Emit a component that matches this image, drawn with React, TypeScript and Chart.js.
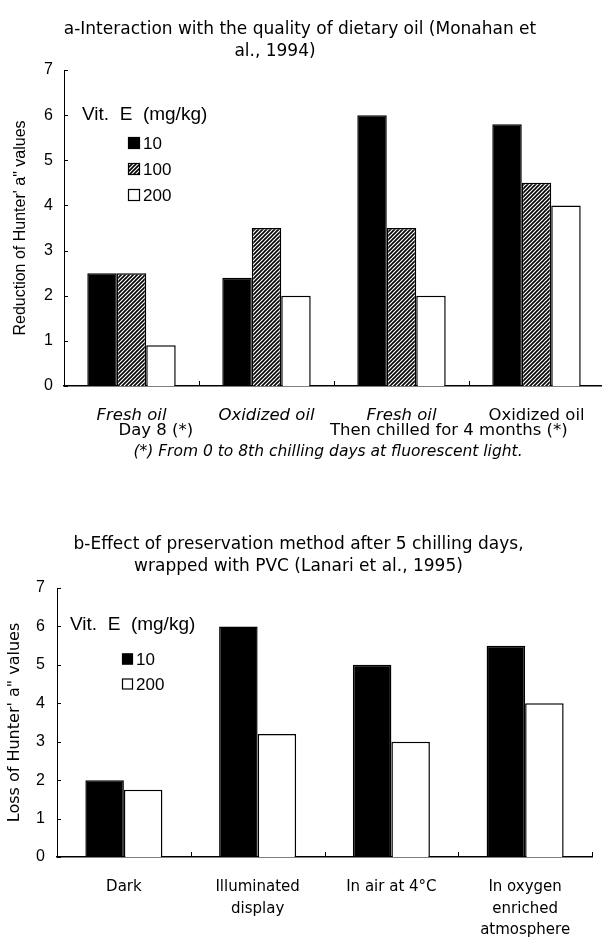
import React, { useEffect, useRef } from "react";
import { Chart, registerables } from "chart.js";

Chart.register(...registerables);

const FONT = "'Liberation Sans', Arial, Helvetica, sans-serif";
const WIDE = "'DejaVu Sans', Verdana, sans-serif";

// ---------- Chart a data ----------
const titleA = ["a-Interaction with the quality of dietary oil (Monahan et", "al., 1994)"];
const categoriesA = ["Fresh oil", "Oxidized oil", "Fresh oil", "Oxidized oil"];
const italicA = [true, true, true, false];
const day8Label = "Day 8 (*)";
const chilledLabel = "Then chilled for 4 months (*)";
const footnoteA = "(*) From 0 to 8th chilling days at fluorescent light.";
const seriesA = ["10", "100", "200"];
const vitE10A = [2.5, 2.4, 6.0, 5.8];
const vitE100A = [2.5, 3.5, 3.5, 4.5];
const vitE200A = [0.9, 2.0, 2.0, 4.0];
const yTitleA = "Reduction of Hunter' a\" values";

// ---------- Chart b data ----------
const titleB = ["b-Effect of preservation method after 5 chilling days,", "wrapped with PVC (Lanari et al., 1995)"];
const categoriesB = [["Dark"], ["Illuminated", "display"], ["In air at 4\u00b0C"], ["In oxygen", "enriched", "atmosphere"]];
const seriesB = ["10", "200"];
const vitE10B = [2.0, 6.0, 5.0, 5.5];
const vitE200B = [1.75, 3.2, 3.0, 4.0];
const yTitleB = "Loss of Hunter' a\" values";

const legendTitle = "Vit.  E  (mg/kg)";
const yMin = 0;
const yMax = 7;

function hatchPattern(): CanvasPattern | string {
  const c = document.createElement("canvas");
  c.width = 4;
  c.height = 4;
  const g = c.getContext("2d");
  if (!g) return "#777";
  g.fillStyle = "#fff";
  g.fillRect(0, 0, 4, 4);
  g.strokeStyle = "#000";
  g.lineWidth = 1.6;
  g.beginPath();
  g.moveTo(-1, 5);
  g.lineTo(5, -1);
  g.moveTo(-1, 1);
  g.lineTo(1, -1);
  g.moveTo(3, 5);
  g.lineTo(5, 3);
  g.stroke();
  const p = g.createPattern(c, "repeat");
  return p || "#777";
}

const decorPlugin = {
  id: "decor",
  afterDraw(chart: any, _args: any, opts: any) {
    const ctx: CanvasRenderingContext2D = chart.ctx;
    const area = chart.chartArea;
    const xs = chart.scales.x;
    const ys = chart.scales.y;
    const midX = (area.left + area.right) / 2;
    ctx.save();
    // inward tick marks
    ctx.strokeStyle = "#000";
    ctx.lineWidth = 1;
    const n = chart.data.labels.length;
    for (let i = 1; i <= n; i++) {
      const px = Math.round(xs.getPixelForValue(i - 0.5)) + 0.5;
      ctx.beginPath();
      ctx.moveTo(px, area.bottom);
      ctx.lineTo(px, area.bottom - 5);
      ctx.stroke();
    }
    for (let v = yMin; v <= yMax; v++) {
      const py = Math.round(ys.getPixelForValue(v)) + 0.5;
      ctx.beginPath();
      ctx.moveTo(area.left, py);
      ctx.lineTo(area.left + 4, py);
      ctx.stroke();
    }
    // titles
    ctx.fillStyle = "#000";
    ctx.textBaseline = "middle";
    ctx.textAlign = "center";
    if (opts.titles) {
      opts.titles.forEach((t: any) => {
        ctx.font = `${t.size}px ${WIDE}`;
        ctx.fillText(t.text, midX + t.dx, area.top + t.dy);
      });
    }
    // legend
    const lg = opts.legend;
    if (lg) {
      ctx.textAlign = "left";
      ctx.font = `${lg.titleSize}px ${FONT}`;
      ctx.fillText(lg.title, area.left + lg.titleX, area.top + lg.titleY);
      ctx.font = `${lg.itemSize}px ${FONT}`;
      chart.data.datasets.forEach((ds: any, i: number) => {
        const bx = area.left + lg.boxX;
        const cy = area.top + lg.firstY + i * lg.step;
        ctx.fillStyle = ds.backgroundColor;
        ctx.fillRect(bx, cy - lg.box / 2, lg.box, lg.box);
        ctx.strokeStyle = "#000";
        ctx.lineWidth = 1.2;
        ctx.strokeRect(bx + 0.5, cy - lg.box / 2 + 0.5, lg.box - 1, lg.box - 1);
        ctx.fillStyle = "#000";
        ctx.fillText(ds.label, bx + lg.box + 3, cy + 1);
      });
    }
    // extra label lines under the axis
    if (opts.subLabels) {
      ctx.fillStyle = "#000";
      ctx.textAlign = "center";
      opts.subLabels.forEach((s: any) => {
        ctx.font = `${s.italic ? "italic " : ""}${s.size}px ${WIDE}`;
        const x = s.value === null ? midX + (s.dx || 0) : xs.getPixelForValue(s.value);
        ctx.fillText(s.text, x, area.bottom + s.dy);
      });
    }
    ctx.restore();
  },
};

function makeConfigA(): any {
  const hatch = hatchPattern();
  return {
    type: "bar",
    data: {
      labels: categoriesA,
      datasets: [
        { label: seriesA[0], data: vitE10A, backgroundColor: "#000", borderColor: "#000", borderWidth: 1.5 },
        { label: seriesA[1], data: vitE100A, backgroundColor: hatch, borderColor: "#000", borderWidth: 1.5 },
        { label: seriesA[2], data: vitE200A, backgroundColor: "#fff", borderColor: "#000", borderWidth: 1.5 },
      ],
    },
    options: {
      responsive: false,
      animation: false,
      events: [],
      datasets: { bar: { categoryPercentage: 0.655, barPercentage: 1 } },
      layout: { padding: { left: 0, right: 6, top: 70, bottom: 0 } },
      plugins: {
        legend: { display: false },
        tooltip: { enabled: false },
        title: { display: false },
        decor: {
          titles: [
            { text: titleA[0], dx: -34, dy: -40, size: 17 },
            { text: titleA[1], dx: -59, dy: -18, size: 17 },
          ],
          legend: { title: legendTitle, titleSize: 19, itemSize: 17, titleX: 18, titleY: 45, boxX: 64, firstY: 73, step: 26, box: 12 },
          subLabels: [
            { text: day8Label, value: 0.18, dy: 45, size: 16.5, italic: false },
            { text: chilledLabel, value: 2.35, dy: 45, size: 16.5, italic: false },
            { text: footnoteA, value: null, dx: -6, dy: 66, size: 15.5, italic: true },
          ],
        },
      },
      scales: {
        x: {
          grid: { display: false, drawTicks: false },
          border: { display: true, color: "#000", width: 1.5 },
          ticks: {
            color: "#000",
            padding: 20,
            maxRotation: 0,
            autoSkip: false,
            font: (c: any) => ({ family: WIDE, size: 16.5, style: italicA[c.index] ? "italic" : "normal", lineHeight: 1.2 }),
          },
          afterFit: (s: any) => {
            s.height = 84;
          },
        },
        y: {
          min: yMin,
          max: yMax,
          grid: { display: false, drawTicks: false },
          border: { display: true, color: "#000", width: 1 },
          ticks: { stepSize: 1, color: "#000", padding: 11, font: { family: FONT, size: 16 } },
          title: {
            display: true,
            text: yTitleA,
            color: "#000",
            font: { family: FONT, size: 16, lineHeight: 1.2 },
            padding: { top: 11, bottom: 0 },
          },
          afterFit: (s: any) => {
            s.width = 64;
          },
        },
      },
    },
    plugins: [decorPlugin],
  };
}

function makeConfigB(): any {
  return {
    type: "bar",
    data: {
      labels: categoriesB,
      datasets: [
        { label: seriesB[0], data: vitE10B, backgroundColor: "#000", borderColor: "#000", borderWidth: 1.5 },
        { label: seriesB[1], data: vitE200B, backgroundColor: "#fff", borderColor: "#000", borderWidth: 1.5 },
      ],
    },
    options: {
      responsive: false,
      animation: false,
      events: [],
      datasets: { bar: { categoryPercentage: 0.576, barPercentage: 1 } },
      layout: { padding: { left: 0, right: 18, top: 108, bottom: 0 } },
      plugins: {
        legend: { display: false },
        tooltip: { enabled: false },
        title: { display: false },
        decor: {
          titles: [
            { text: titleB[0], dx: -26, dy: -43, size: 17 },
            { text: titleB[1], dx: -26, dy: -21, size: 17 },
          ],
          legend: { title: legendTitle, titleSize: 19, itemSize: 17, titleX: 13, titleY: 37, boxX: 65, firstY: 71, step: 25, box: 11 },
        },
      },
      scales: {
        x: {
          grid: { display: false, drawTicks: false },
          border: { display: true, color: "#000", width: 1.5 },
          ticks: {
            color: "#000",
            padding: 19,
            maxRotation: 0,
            autoSkip: false,
            font: { family: WIDE, size: 15, lineHeight: 1.45 },
          },
          afterFit: (s: any) => {
            s.height = 80;
          },
        },
        y: {
          min: yMin,
          max: yMax,
          grid: { display: false, drawTicks: false },
          border: { display: true, color: "#000", width: 1 },
          ticks: { stepSize: 1, color: "#000", padding: 12, font: { family: FONT, size: 16 } },
          title: {
            display: true,
            text: yTitleB,
            color: "#000",
            font: { family: WIDE, size: 16, lineHeight: 1.2 },
            padding: { top: 5, bottom: 0 },
          },
          afterFit: (s: any) => {
            s.width = 57;
          },
        },
      },
    },
    plugins: [decorPlugin],
  };
}

function ChartCanvas(props: { make: () => any; top: number; width: number; height: number }) {
  const ref = useRef<HTMLCanvasElement>(null);
  useEffect(() => {
    if (!ref.current) return;
    const chart = new Chart(ref.current, props.make());
    return () => chart.destroy();
  }, []);
  return (
    <canvas
      ref={ref}
      width={props.width}
      height={props.height}
      style={{ position: "absolute", left: 0, top: props.top, width: props.width, height: props.height, display: "block" }}
    />
  );
}

export default function App() {
  return (
    <div
      style={{
        position: "absolute",
        left: 0,
        top: 0,
        width: 602,
        height: 937,
        overflow: "hidden",
        background: "#fff",
      }}
    >
      <ChartCanvas make={makeConfigA} top={0} width={610} height={470} />
      <ChartCanvas make={makeConfigB} top={480} width={610} height={457} />
    </div>
  );
}
